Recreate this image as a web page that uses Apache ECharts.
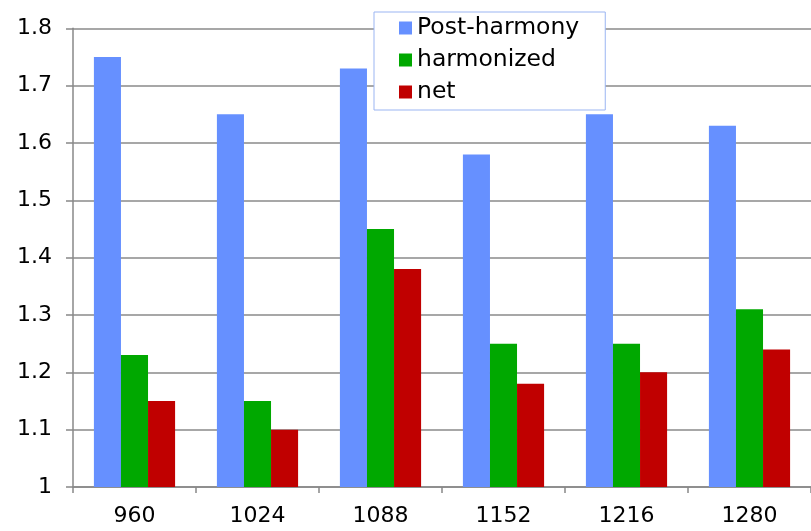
<!DOCTYPE html>
<html><head><meta charset="utf-8">
<script src="https://cdn.jsdelivr.net/npm/echarts@6/dist/echarts.min.js"></script>
<style>html,body{margin:0;padding:0;background:#fff}#c{width:811px;height:531px}</style>
</head><body><div id="c"></div>
<script>
const categories = ['960','1024','1088','1152','1216','1280'];
const postHarmony = [1.75, 1.65, 1.73, 1.58, 1.65, 1.63];
const harmonized = [1.23, 1.15, 1.45, 1.25, 1.25, 1.31];
const net = [1.15, 1.10, 1.38, 1.18, 1.20, 1.24];
const seriesNames = ['Post-harmony','harmonized','net'];
const yTicks = {min: 1, max: 1.8, interval: 0.1};

const font = '"DejaVu Sans", sans-serif';
const chart = echarts.init(document.getElementById('c'), null, {renderer:'canvas'});
chart.setOption({
  animation:false,
  textStyle:{fontFamily:font},
  grid:{left:73, right:-6, top:28.3, bottom:44, containLabel:false},
  legend:{
    orient:'vertical', left:374, top:12,
    padding:[4,26,6,25], itemGap:8, itemWidth:13, itemHeight:13,
    backgroundColor:'#fff', borderColor:'#9bb5f2', borderWidth:1,
    icon:'rect',
    textStyle:{fontSize:23.5, color:'#000', fontFamily:font, lineHeight:24},
    data:seriesNames
  },
  xAxis:{
    type:'category', data:categories, boundaryGap:true,
    axisLine:{lineStyle:{color:'#888', width:1.5}},
    axisTick:{show:true, length:6, inside:false, lineStyle:{color:'#888', width:1.5}},
    axisLabel:{fontSize:22, color:'#000', margin:18, fontFamily:font},
    splitLine:{show:false}
  },
  yAxis:{
    type:'value', min:yTicks.min, max:yTicks.max, interval:yTicks.interval,
    axisLine:{show:true, lineStyle:{color:'#888', width:1.5}},
    axisTick:{show:true, length:7, lineStyle:{color:'#888', width:1.5}},
    axisLabel:{fontSize:22, color:'#000', margin:21, fontFamily:font,
      formatter:v=>String(Math.round(v*10)/10)},
    splitLine:{show:true, lineStyle:{color:'#8a8a8a', width:1.5}}
  },
  series:[
    {name:seriesNames[0], type:'bar', data:postHarmony, itemStyle:{color:'#6690ff'}, barGap:'0%', barCategoryGap:'34%'},
    {name:seriesNames[1], type:'bar', data:harmonized, itemStyle:{color:'#00a800'}, barGap:'0%', barCategoryGap:'34%'},
    {name:seriesNames[2], type:'bar', data:net, itemStyle:{color:'#c00000'}, barGap:'0%', barCategoryGap:'34%'}
  ]
});
</script></body></html>
